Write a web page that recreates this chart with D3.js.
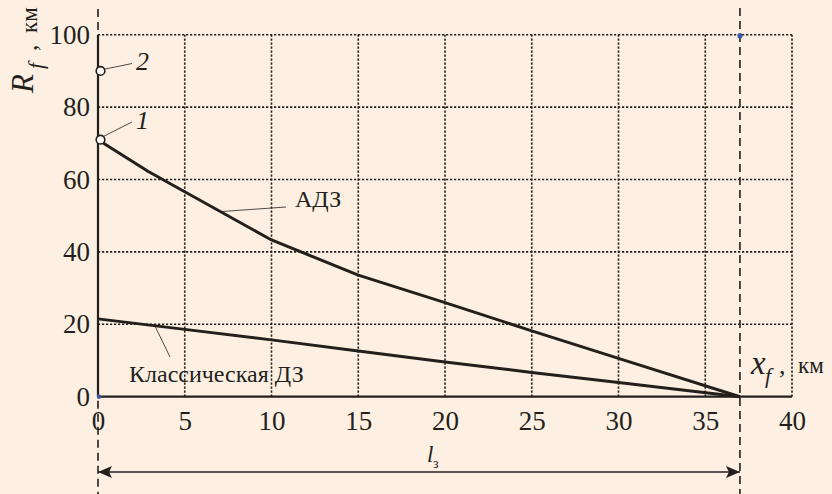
<!DOCTYPE html>
<html><head><meta charset="utf-8">
<script src="https://cdn.jsdelivr.net/npm/d3@7"></script>
<style>
html,body{margin:0;padding:0;background:#fdf0e2;}
svg{display:block;}
</style></head>
<body>
<svg id="c" width="832" height="494" font-family="Liberation Serif" fill="#231f1c"></svg>
<script>
// ---- data ----
const xTicks = [0,5,10,15,20,25,30,35,40];
const yTicks = [0,20,40,60,80,100];
const adzX = [0,2.9,10,15,20,25,30,37];
const adzY = [71,62.2,43.3,33.6,26,18.2,10.6,0];
const classicX = [0,5,10,15,20,25,30,37];
const classicY = [21.5,18.6,15.7,12.6,9.6,6.7,3.9,0];
const point1 = [0,71];
const point2 = [0,90];
const zoneEnd = 37;

const FONT = "Liberation Serif";
const svg = d3.select("#c");
const ink = "#231f1c";
const x = d3.scaleLinear().domain([0,40]).range([98,792]);
const y = d3.scaleLinear().domain([0,100]).range([396.7,34.7]);

// grid
const g = svg.append("g");
g.selectAll("line.vg").data(xTicks.filter(d=>d>0)).join("line")
  .attr("x1",d=>x(d)).attr("x2",d=>x(d)).attr("y1",y(0)).attr("y2",y(100))
  .attr("stroke",ink).attr("stroke-width",1.6).attr("stroke-dasharray","2.2,1.8");
g.selectAll("line.hg").data(yTicks.filter(d=>d>0)).join("line")
  .attr("x1",x(0)).attr("x2",x(40)).attr("y1",d=>y(d)).attr("y2",d=>y(d))
  .attr("stroke",ink).attr("stroke-width",1.6).attr("stroke-dasharray","2.2,1.8");

// axes lines
svg.append("line").attr("x1",x(0)).attr("x2",x(40)).attr("y1",y(0)).attr("y2",y(0))
  .attr("stroke",ink).attr("stroke-width",2.2);
svg.append("line").attr("x1",x(0)).attr("x2",x(0)).attr("y1",y(0)).attr("y2",y(100))
  .attr("stroke",ink).attr("stroke-width",2.2);
// dashed extensions
svg.append("line").attr("x1",x(0)).attr("x2",x(0)).attr("y1",9).attr("y2",y(100))
  .attr("stroke",ink).attr("stroke-width",1.6).attr("stroke-dasharray","8,5");
svg.append("line").attr("x1",x(0)).attr("x2",x(0)).attr("y1",y(0)).attr("y2",494)
  .attr("stroke",ink).attr("stroke-width",1.6).attr("stroke-dasharray","8,5").attr("stroke-dashoffset",-4);
svg.append("line").attr("x1",x(zoneEnd)).attr("x2",x(zoneEnd)).attr("y1",8).attr("y2",494)
  .attr("stroke",ink).attr("stroke-width",1.6).attr("stroke-dasharray","8,5");

// tick labels via axes
const ax = svg.append("g").attr("transform",`translate(0,${y(0)})`)
  .call(d3.axisBottom(x).tickValues(xTicks).tickSize(0).tickPadding(14));
ax.attr("font-family",FONT).attr("font-size",27);
ax.select(".domain").remove();
ax.selectAll("text").attr("fill",ink);
const ay = svg.append("g").attr("transform",`translate(${x(0)},0)`)
  .call(d3.axisLeft(y).tickValues(yTicks).tickSize(0).tickPadding(8));
ay.attr("font-family",FONT).attr("font-size",27);
ay.select(".domain").remove();
ay.selectAll("text").attr("fill",ink);

// curves
const line = d3.line().x(d=>x(d[0])).y(d=>y(d[1]));
svg.append("path").datum(adzX.map((v,i)=>[v,adzY[i]])).attr("d",line)
  .attr("fill","none").attr("stroke",ink).attr("stroke-width",3).attr("stroke-linejoin","round");
svg.append("path").datum(classicX.map((v,i)=>[v,classicY[i]])).attr("d",line)
  .attr("fill","none").attr("stroke",ink).attr("stroke-width",3).attr("stroke-linejoin","round");

// blue dots
svg.append("circle").attr("cx",x(0)+1).attr("cy",y(0)).attr("r",2.2).attr("fill","#3b5ba5");
svg.append("circle").attr("cx",x(zoneEnd)).attr("cy",y(100)+1).attr("r",2.6).attr("fill","#3b5ba5");

// leaders
function leader(x1,y1,x2,y2){
  svg.append("line").attr("x1",x1).attr("y1",y1).attr("x2",x2).attr("y2",y2)
    .attr("stroke",ink).attr("stroke-width",0.8);
}
leader(x(point2[0])+3,y(point2[1])-1,132,63.5);
leader(x(point1[0])+3,y(point1[1])-2,132,122);
leader(222,211.5,286,207);
leader(154,324,170,357);

// points
[point1,point2].forEach(p=>{
  svg.append("circle").attr("cx",x(p[0])+2.5).attr("cy",y(p[1])).attr("r",4.3)
    .attr("fill","#fff").attr("stroke",ink).attr("stroke-width",1.6);
});

// labels
function txt(px,py,size,str,italic,tr){
  const t = svg.append("text").attr("font-family",FONT).attr("font-size",size).attr("fill",ink).text(str);
  if(italic) t.attr("font-style","italic");
  if(tr) t.attr("transform",`translate(${px},${py}) rotate(-90)`);
  else t.attr("x",px).attr("y",py);
  return t;
}
txt(136,70,26,"2",true);
txt(136,129,26,"1",true);
txt(295,207,24,"АДЗ");
txt(129,382,24,"Классическая ДЗ");

// x axis label
txt(751,374,33,"x",true);
txt(765,383,22,"f",true);
txt(779,374,26,",");
txt(798,373,23,"км");

// y axis label (rotated)
txt(33,93,31,"R",true,true);
txt(43,69,22,"f",true,true);
txt(37,51,26,",",false,true);
txt(37,33,23,"км",false,true);

// l_з dimension
const defs = svg.append("defs");
defs.append("marker").attr("id","ah").attr("viewBox","0 0 14 12").attr("refX",14).attr("refY",6)
  .attr("markerWidth",14).attr("markerHeight",12).attr("markerUnits","userSpaceOnUse").attr("orient","auto-start-reverse")
  .append("path").attr("d","M0,0 L14,6 L0,12 L3,6 Z").attr("fill",ink);
svg.append("line").attr("x1",x(0)).attr("x2",x(zoneEnd)).attr("y1",472).attr("y2",472)
  .attr("stroke",ink).attr("stroke-width",1.5)
  .attr("marker-start","url(#ah)").attr("marker-end","url(#ah)");
txt(427,462,23,"l",true);
txt(433,468,14,"з");
</script>
</body></html>
